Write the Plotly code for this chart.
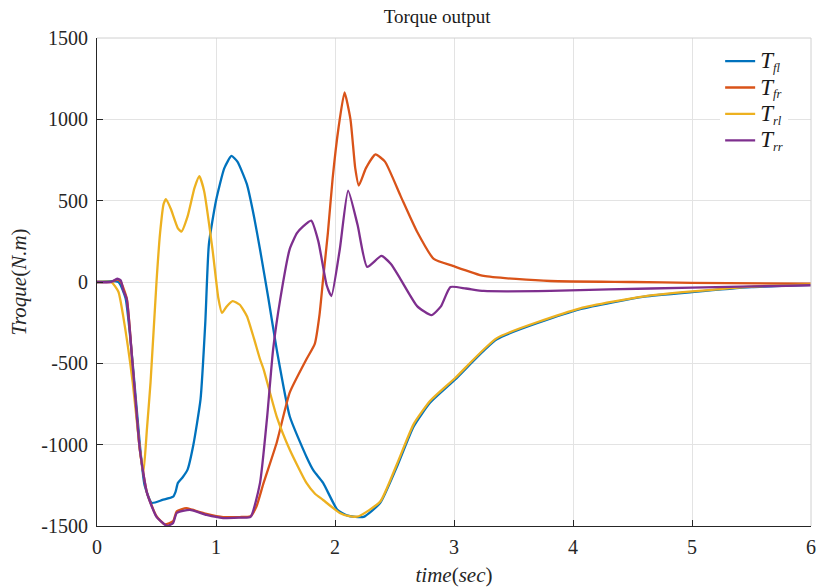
import plotly.graph_objects as go

# ---- data ----
t_fl = [0, 0.18, 0.24, 0.30, 0.36, 0.40, 0.46, 0.55, 0.64, 0.66, 0.68, 0.72, 0.76, 0.81, 0.87, 0.91, 0.94, 1.00,
        1.07, 1.13, 1.18, 1.26, 1.32, 1.37, 1.44, 1.51, 1.62, 1.76, 1.82, 1.90, 2.02, 2.10, 2.17, 2.24, 2.38, 2.52,
        2.66, 2.80, 3.01, 3.36, 4.06, 4.6, 5.0, 5.5, 6.0]
T_fl = [0, 0, -100, -500, -1000, -1250, -1358, -1340, -1320, -1290, -1235, -1200, -1155, -1000, -722, -250, 230, 500,
        700, 775, 740, 600, 400, 200, -100, -414, -827, -1074, -1160, -1235, -1401, -1435, -1444, -1444, -1358, -1136,
        -889, -741, -599, -352, -167, -90, -62, -32, -18]

t_fr = [0, 0.12, 0.17, 0.20, 0.25, 0.30, 0.36, 0.42, 0.50, 0.57, 0.64, 0.67, 0.75, 0.80, 0.92, 1.06, 1.20, 1.29,
        1.34, 1.40, 1.51, 1.62, 1.76, 1.83, 1.87, 1.90, 1.94, 1.98, 2.03, 2.08, 2.13, 2.17, 2.20, 2.26, 2.34, 2.42,
        2.55, 2.69, 2.83, 2.99, 3.25, 3.81, 4.5, 5.0, 6.0]
T_fr = [0, 0, 15, 0, -100, -518, -1031, -1296, -1440, -1490, -1470, -1410, -1390, -1400, -1425, -1445, -1445, -1440,
        -1380, -1235, -988, -679, -475, -380, -200, 18, 300, 636, 950, 1165, 1000, 700, 593, 700, 784, 740,
        531, 309, 142, 99, 37, 6, 0, -5, -10]

t_rl = [0, 0.12, 0.18, 0.22, 0.30, 0.36, 0.39, 0.42, 0.45, 0.50, 0.53, 0.56, 0.58, 0.62, 0.68, 0.71, 0.76, 0.82,
        0.86, 0.90, 0.97, 1.02, 1.05, 1.09, 1.14, 1.20, 1.26, 1.32, 1.37, 1.40, 1.51, 1.62, 1.76, 1.83, 1.90, 2.04,
        2.12, 2.20, 2.38, 2.52, 2.66, 2.80, 3.01, 3.36, 4.06, 4.6, 5.0, 5.5, 6.0]
T_rl = [0, 0, -60, -210, -617, -1030, -1173, -900, -617, 0, 300, 480, 510, 450, 330, 310, 400, 580,
        650, 560, 204, -100, -190, -150, -117, -140, -210, -350, -475, -537, -827, -1031, -1235, -1300, -1340, -1420,
        -1440, -1440, -1350, -1120, -875, -730, -590, -345, -162, -88, -58, -28, -15]

t_rr = [0, 0.12, 0.17, 0.20, 0.22, 0.25, 0.30, 0.36, 0.42, 0.50, 0.59, 0.64, 0.67, 0.78, 0.92, 1.06, 1.20, 1.29,
        1.37, 1.43, 1.48, 1.54, 1.62, 1.68, 1.73, 1.80, 1.86, 1.93, 1.97, 2.04, 2.11, 2.19, 2.27, 2.39, 2.47, 2.55,
        2.69, 2.81, 2.89, 2.97, 3.10, 3.25, 3.81, 4.3, 5.0, 6.0]
T_rr = [0, 0, 20, 10, -50, -105, -518, -1031, -1296, -1444, -1500, -1481, -1420, -1401, -1432, -1451, -1448, -1444,
        -1235, -827, -414, -105, 204, 300, 340, 377, 250, -20, -86, 200, 562, 350, 93, 160, 110, 18,
        -148, -204, -150, -31, -40, -55, -55, -45, -35, -20]

T_BIG = '<span style="font-size:23px"><i>T</i></span>'
names = [T_BIG + "<sub><i>fl</i></sub>", T_BIG + "<sub><i>fr</i></sub>",
         T_BIG + "<sub><i>rl</i></sub>", T_BIG + "<sub><i>rr</i></sub>"]
colors = ["#0072BD", "#D95319", "#EDB120", "#7E2F8E"]

x_ticks = [0, 1, 2, 3, 4, 5, 6]
y_ticks = [1500, 1000, 500, 0, -500, -1000, -1500]
y_ticktext = ["1500", "1000", "500", "0", "-500", "-1000", "-1500"]

FONT = "Liberation Serif, DejaVu Serif, serif"

fig = go.Figure()
series = [(t_fl, T_fl), (t_fr, T_fr), (t_rl, T_rl), (t_rr, T_rr)]
for i in range(4):
    x, y = series[i]
    fig.add_trace(go.Scatter(x=x, y=y, mode="lines", name=names[i],
                             line=dict(color=colors[i], width=2.3, shape="spline", smoothing=0.5)))

fig.update_layout(
    width=817, height=588,
    margin=dict(l=97, r=6, t=38, b=62),
    paper_bgcolor="white", plot_bgcolor="white",
    font=dict(family=FONT, size=19, color="#262626"),
    title=dict(text="Torque output", x=0.535, xanchor="center", y=0.983, yanchor="top",
               font=dict(family=FONT, size=19, color="#1a1a1a")),
    showlegend=True,
    legend=dict(x=0.968, xanchor="right", y=0.99, yanchor="top", bgcolor="white",
                borderwidth=0, font=dict(family=FONT, size=18, color="#1a1a1a"),
                itemwidth=30, tracegroupgap=0),
)
fig.update_xaxes(range=[0, 6], tickvals=x_ticks, ticktext=[str(v) for v in x_ticks],
                 automargin=False, ticklabelstandoff=3, ticklabeloverflow="allow",
                 showgrid=True, gridcolor="#e3e3e3", gridwidth=1,
                 showline=True, linecolor="#262626", linewidth=1,
                 ticks="inside", ticklen=6, tickcolor="#262626",
                 zeroline=False, tickfont=dict(size=20),
                 title=dict(text="<i>time</i>(<i>sec</i>)", font=dict(size=21), standoff=10))
fig.update_yaxes(range=[-1500, 1500], tickvals=y_ticks, ticktext=y_ticktext,
                 automargin=False, ticklabelstandoff=4,
                 showgrid=True, gridcolor="#e3e3e3", gridwidth=1,
                 showline=True, linecolor="#262626", linewidth=1,
                 ticks="inside", ticklen=6, tickcolor="#262626",
                 zeroline=False, tickfont=dict(size=20),
                 title=dict(text="<i>Troque</i>(<i>N.m</i>)", font=dict(size=21), standoff=8))
# light top / right box edges
fig.add_shape(type="line", xref="paper", yref="paper", x0=0, x1=1, y0=1, y1=1,
              line=dict(color="#d0d0d0", width=1))
fig.add_shape(type="line", xref="paper", yref="paper", x0=1, x1=1, y0=0, y1=1,
              line=dict(color="#d0d0d0", width=1))

fig.write_html("out.html", config={"displayModeBar": False},
               post_script="document.body.style.margin='0';document.body.style.overflow='hidden';")
